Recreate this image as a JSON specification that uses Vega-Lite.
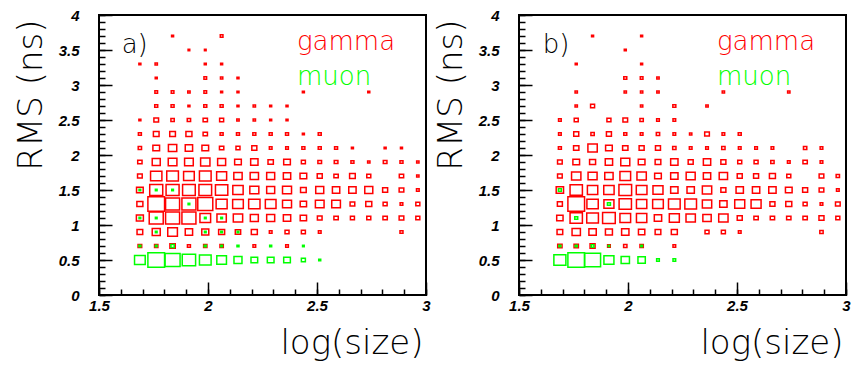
{
"$schema": "https://vega.github.io/schema/vega-lite/v6.json",
"background": "white",
"padding": {"left": 13, "top": 7, "right": 0, "bottom": 0},
"bounds": "flush",
"spacing": 93,
"datasets": {
"a": [
{"p":"gamma","x":1.8375,"y":3.7,"n":6},{"p":"gamma","x":2.0625,"y":3.7,"n":8},
{"p":"gamma","x":1.9125,"y":3.5,"n":5},{"p":"gamma","x":1.9875,"y":3.5,"n":5},
{"p":"gamma","x":1.6875,"y":3.3,"n":6},{"p":"gamma","x":1.7625,"y":3.3,"n":7},{"p":"gamma","x":1.9875,"y":3.3,"n":6},{"p":"gamma","x":2.0625,"y":3.3,"n":6},
{"p":"gamma","x":1.7625,"y":3.1,"n":6},{"p":"gamma","x":1.9875,"y":3.1,"n":8},{"p":"gamma","x":2.0625,"y":3.1,"n":7},{"p":"gamma","x":2.1375,"y":3.1,"n":6},
{"p":"gamma","x":1.7625,"y":2.9,"n":8},{"p":"gamma","x":1.8375,"y":2.9,"n":8},{"p":"gamma","x":1.9125,"y":2.9,"n":7},{"p":"gamma","x":1.9875,"y":2.9,"n":8},{"p":"gamma","x":2.0625,"y":2.9,"n":6},{"p":"gamma","x":2.1375,"y":2.9,"n":6},{"p":"gamma","x":2.4375,"y":2.9,"n":6},{"p":"gamma","x":2.7375,"y":2.9,"n":6},
{"p":"gamma","x":1.7625,"y":2.7,"n":9},{"p":"gamma","x":1.8375,"y":2.7,"n":9},{"p":"gamma","x":1.9125,"y":2.7,"n":6},{"p":"gamma","x":1.9875,"y":2.7,"n":9},{"p":"gamma","x":2.0625,"y":2.7,"n":9},{"p":"gamma","x":2.1375,"y":2.7,"n":6},{"p":"gamma","x":2.2125,"y":2.7,"n":7},{"p":"gamma","x":2.2875,"y":2.7,"n":6},{"p":"gamma","x":2.3625,"y":2.7,"n":6},
{"p":"gamma","x":1.6875,"y":2.5,"n":6},{"p":"gamma","x":1.7625,"y":2.5,"n":14},{"p":"gamma","x":1.8375,"y":2.5,"n":10},{"p":"gamma","x":1.9125,"y":2.5,"n":10},{"p":"gamma","x":1.9875,"y":2.5,"n":13},{"p":"gamma","x":2.0625,"y":2.5,"n":12},{"p":"gamma","x":2.1375,"y":2.5,"n":7},{"p":"gamma","x":2.2125,"y":2.5,"n":7},{"p":"gamma","x":2.2875,"y":2.5,"n":6},{"p":"gamma","x":2.3625,"y":2.5,"n":6},
{"p":"gamma","x":1.6875,"y":2.3,"n":9},{"p":"gamma","x":1.7625,"y":2.3,"n":17},{"p":"gamma","x":1.8375,"y":2.3,"n":17},{"p":"gamma","x":1.9125,"y":2.3,"n":18},{"p":"gamma","x":1.9875,"y":2.3,"n":13},{"p":"gamma","x":2.0625,"y":2.3,"n":9},{"p":"gamma","x":2.1375,"y":2.3,"n":9},{"p":"gamma","x":2.2125,"y":2.3,"n":9},{"p":"gamma","x":2.2875,"y":2.3,"n":9},{"p":"gamma","x":2.3625,"y":2.3,"n":9},{"p":"gamma","x":2.4375,"y":2.3,"n":6},{"p":"gamma","x":2.5125,"y":2.3,"n":9},
{"p":"gamma","x":1.6875,"y":2.1,"n":10},{"p":"gamma","x":1.7625,"y":2.1,"n":20},{"p":"gamma","x":1.8375,"y":2.1,"n":25},{"p":"gamma","x":1.9125,"y":2.1,"n":22},{"p":"gamma","x":1.9875,"y":2.1,"n":20},{"p":"gamma","x":2.0625,"y":2.1,"n":13},{"p":"gamma","x":2.1375,"y":2.1,"n":12},{"p":"gamma","x":2.2125,"y":2.1,"n":15},{"p":"gamma","x":2.2875,"y":2.1,"n":8},{"p":"gamma","x":2.3625,"y":2.1,"n":8},{"p":"gamma","x":2.4375,"y":2.1,"n":9},{"p":"gamma","x":2.5125,"y":2.1,"n":9},{"p":"gamma","x":2.5875,"y":2.1,"n":9},{"p":"gamma","x":2.6625,"y":2.1,"n":6},{"p":"gamma","x":2.8125,"y":2.1,"n":6},{"p":"gamma","x":2.8875,"y":2.1,"n":6},
{"p":"gamma","x":1.6875,"y":1.9,"n":13},{"p":"gamma","x":1.7625,"y":1.9,"n":24},{"p":"gamma","x":1.8375,"y":1.9,"n":26},{"p":"gamma","x":1.9125,"y":1.9,"n":26},{"p":"gamma","x":1.9875,"y":1.9,"n":28},{"p":"gamma","x":2.0625,"y":1.9,"n":24},{"p":"gamma","x":2.1375,"y":1.9,"n":20},{"p":"gamma","x":2.2125,"y":1.9,"n":22},{"p":"gamma","x":2.2875,"y":1.9,"n":16},{"p":"gamma","x":2.3625,"y":1.9,"n":20},{"p":"gamma","x":2.4375,"y":1.9,"n":12},{"p":"gamma","x":2.5125,"y":1.9,"n":11},{"p":"gamma","x":2.5875,"y":1.9,"n":11},{"p":"gamma","x":2.6625,"y":1.9,"n":9},{"p":"gamma","x":2.7375,"y":1.9,"n":7},{"p":"gamma","x":2.8125,"y":1.9,"n":11},{"p":"gamma","x":2.8875,"y":1.9,"n":9},{"p":"gamma","x":2.9625,"y":1.9,"n":7},
{"p":"gamma","x":1.6875,"y":1.7,"n":14},{"p":"gamma","x":1.7625,"y":1.7,"n":34},{"p":"gamma","x":1.8375,"y":1.7,"n":35},{"p":"gamma","x":1.9125,"y":1.7,"n":32},{"p":"gamma","x":1.9875,"y":1.7,"n":35},{"p":"gamma","x":2.0625,"y":1.7,"n":30},{"p":"gamma","x":2.1375,"y":1.7,"n":25},{"p":"gamma","x":2.2125,"y":1.7,"n":25},{"p":"gamma","x":2.2875,"y":1.7,"n":24},{"p":"gamma","x":2.3625,"y":1.7,"n":22},{"p":"gamma","x":2.4375,"y":1.7,"n":20},{"p":"gamma","x":2.5125,"y":1.7,"n":15},{"p":"gamma","x":2.5875,"y":1.7,"n":13},{"p":"gamma","x":2.6625,"y":1.7,"n":17},{"p":"gamma","x":2.7375,"y":1.7,"n":12},{"p":"gamma","x":2.8875,"y":1.7,"n":13},{"p":"gamma","x":2.9625,"y":1.7,"n":7},
{"p":"gamma","x":1.6875,"y":1.5,"n":20},{"p":"gamma","x":1.7625,"y":1.5,"n":39},{"p":"gamma","x":1.8375,"y":1.5,"n":39},{"p":"gamma","x":1.9125,"y":1.5,"n":38},{"p":"gamma","x":1.9875,"y":1.5,"n":38},{"p":"gamma","x":2.0625,"y":1.5,"n":37},{"p":"gamma","x":2.1375,"y":1.5,"n":31},{"p":"gamma","x":2.2125,"y":1.5,"n":27},{"p":"gamma","x":2.2875,"y":1.5,"n":24},{"p":"gamma","x":2.3625,"y":1.5,"n":27},{"p":"gamma","x":2.4375,"y":1.5,"n":17},{"p":"gamma","x":2.5125,"y":1.5,"n":24},{"p":"gamma","x":2.5875,"y":1.5,"n":22},{"p":"gamma","x":2.6625,"y":1.5,"n":22},{"p":"gamma","x":2.7375,"y":1.5,"n":24},{"p":"gamma","x":2.8125,"y":1.5,"n":15},{"p":"gamma","x":2.8875,"y":1.5,"n":14},{"p":"gamma","x":2.9625,"y":1.5,"n":8},
{"p":"gamma","x":1.6875,"y":1.3,"n":18},{"p":"gamma","x":1.7625,"y":1.3,"n":50},{"p":"gamma","x":1.8375,"y":1.3,"n":42},{"p":"gamma","x":1.9125,"y":1.3,"n":42},{"p":"gamma","x":1.9875,"y":1.3,"n":45},{"p":"gamma","x":2.0625,"y":1.3,"n":33},{"p":"gamma","x":2.1375,"y":1.3,"n":32},{"p":"gamma","x":2.2125,"y":1.3,"n":34},{"p":"gamma","x":2.2875,"y":1.3,"n":32},{"p":"gamma","x":2.3625,"y":1.3,"n":27},{"p":"gamma","x":2.4375,"y":1.3,"n":19},{"p":"gamma","x":2.5125,"y":1.3,"n":26},{"p":"gamma","x":2.5875,"y":1.3,"n":26},{"p":"gamma","x":2.6625,"y":1.3,"n":14},{"p":"gamma","x":2.7375,"y":1.3,"n":18},{"p":"gamma","x":2.8125,"y":1.3,"n":12},{"p":"gamma","x":2.8875,"y":1.3,"n":8},{"p":"gamma","x":2.9625,"y":1.3,"n":12},
{"p":"gamma","x":1.6875,"y":1.1,"n":21},{"p":"gamma","x":1.7625,"y":1.1,"n":42},{"p":"gamma","x":1.8375,"y":1.1,"n":42},{"p":"gamma","x":1.9125,"y":1.1,"n":42},{"p":"gamma","x":1.9875,"y":1.1,"n":32},{"p":"gamma","x":2.0625,"y":1.1,"n":28},{"p":"gamma","x":2.1375,"y":1.1,"n":28},{"p":"gamma","x":2.2125,"y":1.1,"n":24},{"p":"gamma","x":2.2875,"y":1.1,"n":24},{"p":"gamma","x":2.3625,"y":1.1,"n":22},{"p":"gamma","x":2.4375,"y":1.1,"n":19},{"p":"gamma","x":2.5125,"y":1.1,"n":14},{"p":"gamma","x":2.5875,"y":1.1,"n":13},{"p":"gamma","x":2.6625,"y":1.1,"n":12},{"p":"gamma","x":2.7375,"y":1.1,"n":12},{"p":"gamma","x":2.8125,"y":1.1,"n":13},{"p":"gamma","x":2.8875,"y":1.1,"n":14},{"p":"gamma","x":2.9625,"y":1.1,"n":12},
{"p":"gamma","x":1.6875,"y":0.9,"n":17},{"p":"gamma","x":1.7625,"y":0.9,"n":24},{"p":"gamma","x":1.8375,"y":0.9,"n":29},{"p":"gamma","x":1.9125,"y":0.9,"n":22},{"p":"gamma","x":1.9875,"y":0.9,"n":21},{"p":"gamma","x":2.0625,"y":0.9,"n":18},{"p":"gamma","x":2.1375,"y":0.9,"n":16},{"p":"gamma","x":2.2125,"y":0.9,"n":18},{"p":"gamma","x":2.2875,"y":0.9,"n":8},{"p":"gamma","x":2.3625,"y":0.9,"n":12},{"p":"gamma","x":2.4375,"y":0.9,"n":12},{"p":"gamma","x":2.5125,"y":0.9,"n":8},{"p":"gamma","x":2.8875,"y":0.9,"n":9},
{"p":"gamma","x":1.6875,"y":0.7,"n":11},{"p":"gamma","x":1.7625,"y":0.7,"n":10},{"p":"gamma","x":1.8375,"y":0.7,"n":16},{"p":"gamma","x":1.9125,"y":0.7,"n":9},{"p":"gamma","x":1.9875,"y":0.7,"n":10},{"p":"gamma","x":2.0625,"y":0.7,"n":10},{"p":"gamma","x":2.2125,"y":0.7,"n":8},{"p":"gamma","x":2.3625,"y":0.7,"n":8},
{"p":"muon","x":1.6875,"y":0.5,"n":32},{"p":"muon","x":1.7625,"y":0.5,"n":50},{"p":"muon","x":1.8375,"y":0.5,"n":45},{"p":"muon","x":1.9125,"y":0.5,"n":40},{"p":"muon","x":1.9875,"y":0.5,"n":35},{"p":"muon","x":2.0625,"y":0.5,"n":29},{"p":"muon","x":2.1375,"y":0.5,"n":24},{"p":"muon","x":2.2125,"y":0.5,"n":20},{"p":"muon","x":2.2875,"y":0.5,"n":20},{"p":"muon","x":2.3625,"y":0.5,"n":20},{"p":"muon","x":2.4375,"y":0.5,"n":12},{"p":"muon","x":2.5125,"y":0.5,"n":6},
{"p":"muon","x":1.6875,"y":0.7,"n":6},{"p":"muon","x":1.7625,"y":0.7,"n":5},{"p":"muon","x":1.8375,"y":0.7,"n":10},{"p":"muon","x":1.9875,"y":0.7,"n":6},{"p":"muon","x":2.0625,"y":0.7,"n":5},{"p":"muon","x":2.1375,"y":0.7,"n":6},{"p":"muon","x":2.2875,"y":0.7,"n":6},{"p":"muon","x":2.4375,"y":0.7,"n":5},
{"p":"muon","x":1.7625,"y":0.9,"n":5},{"p":"muon","x":1.9875,"y":0.9,"n":5},{"p":"muon","x":2.0625,"y":0.9,"n":5},{"p":"muon","x":2.1375,"y":0.9,"n":5},
{"p":"muon","x":1.6875,"y":1.1,"n":5},{"p":"muon","x":1.7625,"y":1.1,"n":5},{"p":"muon","x":1.9875,"y":1.1,"n":5},{"p":"muon","x":2.0625,"y":1.1,"n":5},
{"p":"muon","x":1.9125,"y":1.3,"n":5},
{"p":"muon","x":1.6875,"y":1.5,"n":5},{"p":"muon","x":1.7625,"y":1.5,"n":5},{"p":"muon","x":1.8375,"y":1.5,"n":5}
],
"b": [
{"p":"gamma","x":1.8375,"y":3.7,"n":6},{"p":"gamma","x":2.0625,"y":3.7,"n":6},
{"p":"gamma","x":1.9875,"y":3.5,"n":6},
{"p":"gamma","x":1.7625,"y":3.3,"n":6},{"p":"gamma","x":2.0625,"y":3.3,"n":6},
{"p":"gamma","x":1.9875,"y":3.1,"n":9},{"p":"gamma","x":2.0625,"y":3.1,"n":8},{"p":"gamma","x":2.1375,"y":3.1,"n":7},
{"p":"gamma","x":1.7625,"y":2.9,"n":7},{"p":"gamma","x":1.9875,"y":2.9,"n":7},{"p":"gamma","x":2.0625,"y":2.9,"n":7},{"p":"gamma","x":2.1375,"y":2.9,"n":7},{"p":"gamma","x":2.4375,"y":2.9,"n":7},{"p":"gamma","x":2.7375,"y":2.9,"n":7},
{"p":"gamma","x":1.7625,"y":2.7,"n":7},{"p":"gamma","x":1.8375,"y":2.7,"n":12},{"p":"gamma","x":2.0625,"y":2.7,"n":7},{"p":"gamma","x":2.2125,"y":2.7,"n":9},{"p":"gamma","x":2.3625,"y":2.7,"n":7},
{"p":"gamma","x":1.6875,"y":2.5,"n":8},{"p":"gamma","x":1.7625,"y":2.5,"n":12},{"p":"gamma","x":1.9125,"y":2.5,"n":12},{"p":"gamma","x":1.9875,"y":2.5,"n":14},{"p":"gamma","x":2.0625,"y":2.5,"n":10},{"p":"gamma","x":2.1375,"y":2.5,"n":8},{"p":"gamma","x":2.2125,"y":2.5,"n":8},
{"p":"gamma","x":1.6875,"y":2.3,"n":8},{"p":"gamma","x":1.7625,"y":2.3,"n":15},{"p":"gamma","x":1.8375,"y":2.3,"n":10},{"p":"gamma","x":1.9125,"y":2.3,"n":15},{"p":"gamma","x":1.9875,"y":2.3,"n":9},{"p":"gamma","x":2.0625,"y":2.3,"n":8},{"p":"gamma","x":2.1375,"y":2.3,"n":10},{"p":"gamma","x":2.2125,"y":2.3,"n":8},{"p":"gamma","x":2.2875,"y":2.3,"n":7},{"p":"gamma","x":2.3625,"y":2.3,"n":14},{"p":"gamma","x":2.4375,"y":2.3,"n":8},{"p":"gamma","x":2.5125,"y":2.3,"n":9},
{"p":"gamma","x":1.6875,"y":2.1,"n":9},{"p":"gamma","x":1.7625,"y":2.1,"n":16},{"p":"gamma","x":1.8375,"y":2.1,"n":28},{"p":"gamma","x":1.9125,"y":2.1,"n":20},{"p":"gamma","x":1.9875,"y":2.1,"n":16},{"p":"gamma","x":2.0625,"y":2.1,"n":15},{"p":"gamma","x":2.1375,"y":2.1,"n":15},{"p":"gamma","x":2.2125,"y":2.1,"n":10},{"p":"gamma","x":2.2875,"y":2.1,"n":8},{"p":"gamma","x":2.3625,"y":2.1,"n":8},{"p":"gamma","x":2.4375,"y":2.1,"n":10},{"p":"gamma","x":2.5125,"y":2.1,"n":8},{"p":"gamma","x":2.5875,"y":2.1,"n":8},{"p":"gamma","x":2.6625,"y":2.1,"n":8},{"p":"gamma","x":2.8125,"y":2.1,"n":10},{"p":"gamma","x":2.8875,"y":2.1,"n":8},
{"p":"gamma","x":1.6875,"y":1.9,"n":14},{"p":"gamma","x":1.7625,"y":1.9,"n":20},{"p":"gamma","x":1.8375,"y":1.9,"n":18},{"p":"gamma","x":1.9125,"y":1.9,"n":22},{"p":"gamma","x":1.9875,"y":1.9,"n":27},{"p":"gamma","x":2.0625,"y":1.9,"n":20},{"p":"gamma","x":2.1375,"y":1.9,"n":17},{"p":"gamma","x":2.2125,"y":1.9,"n":22},{"p":"gamma","x":2.2875,"y":1.9,"n":15},{"p":"gamma","x":2.3625,"y":1.9,"n":22},{"p":"gamma","x":2.4375,"y":1.9,"n":15},{"p":"gamma","x":2.5125,"y":1.9,"n":12},{"p":"gamma","x":2.5875,"y":1.9,"n":12},{"p":"gamma","x":2.6625,"y":1.9,"n":10},{"p":"gamma","x":2.7375,"y":1.9,"n":8},{"p":"gamma","x":2.8125,"y":1.9,"n":13},{"p":"gamma","x":2.8875,"y":1.9,"n":8},
{"p":"gamma","x":1.6875,"y":1.7,"n":14},{"p":"gamma","x":1.7625,"y":1.7,"n":28},{"p":"gamma","x":1.8375,"y":1.7,"n":27},{"p":"gamma","x":1.9125,"y":1.7,"n":25},{"p":"gamma","x":1.9875,"y":1.7,"n":32},{"p":"gamma","x":2.0625,"y":1.7,"n":28},{"p":"gamma","x":2.1375,"y":1.7,"n":20},{"p":"gamma","x":2.2125,"y":1.7,"n":22},{"p":"gamma","x":2.2875,"y":1.7,"n":27},{"p":"gamma","x":2.3625,"y":1.7,"n":22},{"p":"gamma","x":2.4375,"y":1.7,"n":25},{"p":"gamma","x":2.5125,"y":1.7,"n":15},{"p":"gamma","x":2.5875,"y":1.7,"n":15},{"p":"gamma","x":2.6625,"y":1.7,"n":18},{"p":"gamma","x":2.7375,"y":1.7,"n":12},{"p":"gamma","x":2.8875,"y":1.7,"n":14},{"p":"gamma","x":2.9625,"y":1.7,"n":10},
{"p":"gamma","x":1.6875,"y":1.5,"n":22},{"p":"gamma","x":1.7625,"y":1.5,"n":37},{"p":"gamma","x":1.8375,"y":1.5,"n":31},{"p":"gamma","x":1.9125,"y":1.5,"n":31},{"p":"gamma","x":1.9875,"y":1.5,"n":38},{"p":"gamma","x":2.0625,"y":1.5,"n":32},{"p":"gamma","x":2.1375,"y":1.5,"n":30},{"p":"gamma","x":2.2125,"y":1.5,"n":22},{"p":"gamma","x":2.2875,"y":1.5,"n":22},{"p":"gamma","x":2.3625,"y":1.5,"n":28},{"p":"gamma","x":2.4375,"y":1.5,"n":15},{"p":"gamma","x":2.5125,"y":1.5,"n":22},{"p":"gamma","x":2.5875,"y":1.5,"n":22},{"p":"gamma","x":2.6625,"y":1.5,"n":22},{"p":"gamma","x":2.7375,"y":1.5,"n":20},{"p":"gamma","x":2.8125,"y":1.5,"n":15},{"p":"gamma","x":2.8875,"y":1.5,"n":14},{"p":"gamma","x":2.9625,"y":1.5,"n":8},
{"p":"gamma","x":1.6875,"y":1.3,"n":15},{"p":"gamma","x":1.7625,"y":1.3,"n":50},{"p":"gamma","x":1.8375,"y":1.3,"n":34},{"p":"gamma","x":1.9125,"y":1.3,"n":30},{"p":"gamma","x":1.9875,"y":1.3,"n":37},{"p":"gamma","x":2.0625,"y":1.3,"n":31},{"p":"gamma","x":2.1375,"y":1.3,"n":32},{"p":"gamma","x":2.2125,"y":1.3,"n":35},{"p":"gamma","x":2.2875,"y":1.3,"n":35},{"p":"gamma","x":2.3625,"y":1.3,"n":28},{"p":"gamma","x":2.4375,"y":1.3,"n":22},{"p":"gamma","x":2.5125,"y":1.3,"n":30},{"p":"gamma","x":2.5875,"y":1.3,"n":30},{"p":"gamma","x":2.6625,"y":1.3,"n":15},{"p":"gamma","x":2.7375,"y":1.3,"n":18},{"p":"gamma","x":2.8125,"y":1.3,"n":12},{"p":"gamma","x":2.8875,"y":1.3,"n":8},{"p":"gamma","x":2.9625,"y":1.3,"n":14},
{"p":"gamma","x":1.6875,"y":1.1,"n":19},{"p":"gamma","x":1.7625,"y":1.1,"n":37},{"p":"gamma","x":1.8375,"y":1.1,"n":35},{"p":"gamma","x":1.9125,"y":1.1,"n":38},{"p":"gamma","x":1.9875,"y":1.1,"n":32},{"p":"gamma","x":2.0625,"y":1.1,"n":31},{"p":"gamma","x":2.1375,"y":1.1,"n":22},{"p":"gamma","x":2.2125,"y":1.1,"n":30},{"p":"gamma","x":2.2875,"y":1.1,"n":28},{"p":"gamma","x":2.3625,"y":1.1,"n":25},{"p":"gamma","x":2.4375,"y":1.1,"n":28},{"p":"gamma","x":2.5125,"y":1.1,"n":15},{"p":"gamma","x":2.5875,"y":1.1,"n":13},{"p":"gamma","x":2.6625,"y":1.1,"n":13},{"p":"gamma","x":2.7375,"y":1.1,"n":13},{"p":"gamma","x":2.8125,"y":1.1,"n":13},{"p":"gamma","x":2.8875,"y":1.1,"n":15},{"p":"gamma","x":2.9625,"y":1.1,"n":12},
{"p":"gamma","x":1.6875,"y":0.9,"n":17},{"p":"gamma","x":1.7625,"y":0.9,"n":25},{"p":"gamma","x":1.8375,"y":0.9,"n":22},{"p":"gamma","x":1.9125,"y":0.9,"n":21},{"p":"gamma","x":1.9875,"y":0.9,"n":22},{"p":"gamma","x":2.0625,"y":0.9,"n":19},{"p":"gamma","x":2.1375,"y":0.9,"n":17},{"p":"gamma","x":2.2125,"y":0.9,"n":18},{"p":"gamma","x":2.3625,"y":0.9,"n":12},{"p":"gamma","x":2.4375,"y":0.9,"n":12},{"p":"gamma","x":2.5125,"y":0.9,"n":8},{"p":"gamma","x":2.8875,"y":0.9,"n":10},
{"p":"gamma","x":1.6875,"y":0.7,"n":13},{"p":"gamma","x":1.7625,"y":0.7,"n":13},{"p":"gamma","x":1.8375,"y":0.7,"n":15},{"p":"gamma","x":1.9125,"y":0.7,"n":8},{"p":"gamma","x":1.9875,"y":0.7,"n":10},{"p":"gamma","x":2.0625,"y":0.7,"n":10},{"p":"gamma","x":2.2125,"y":0.7,"n":8},
{"p":"muon","x":1.6875,"y":0.5,"n":36},{"p":"muon","x":1.7625,"y":0.5,"n":50},{"p":"muon","x":1.8375,"y":0.5,"n":48},{"p":"muon","x":1.9125,"y":0.5,"n":30},{"p":"muon","x":1.9875,"y":0.5,"n":25},{"p":"muon","x":2.0625,"y":0.5,"n":22},{"p":"muon","x":2.1375,"y":0.5,"n":8},{"p":"muon","x":2.2125,"y":0.5,"n":8},
{"p":"muon","x":1.6875,"y":0.7,"n":6},{"p":"muon","x":1.7625,"y":0.7,"n":6},{"p":"muon","x":1.8375,"y":0.7,"n":8},{"p":"muon","x":1.9125,"y":0.7,"n":4},{"p":"muon","x":2.0625,"y":0.7,"n":5},
{"p":"muon","x":1.7625,"y":1.1,"n":9},
{"p":"muon","x":1.9125,"y":1.3,"n":9},
{"p":"muon","x":1.6875,"y":1.5,"n":9}
],
"leg": [
{"p":"gamma","lx":2.408,"ly":3.493},
{"p":"muon","lx":2.408,"ly":2.993}
]
},
"hconcat": [
{
"width": 327, "height": 280,
"layer": [
{"data": {"name": "a"},
 "mark": {"type": "point", "shape": "M-1,-0.856L1,-0.856L1,0.856L-1,0.856Z", "filled": false, "strokeWidth": 1.5, "opacity": 1},
 "encoding": {
  "x": {"field": "x", "type": "quantitative", "scale": {"domain": [1.5, 3], "nice": false, "zero": false},
        "axis": {"orient": "bottom", "offset": -13, "values": [1.5, 2, 2.5, 3], "format": "~g", "tickSize": 13, "tickWidth": 1.5, "tickColor": "#000000", "domain": false, "grid": false, "labelFont": "Liberation Sans", "labelFontSize": 15, "labelFontWeight": "bold", "labelFontStyle": "italic", "labelColor": "black", "labelPadding": 3, "labelFlush": false, "labelOverlap": false, "title": "log(size)", "titleFont": "DejaVu Sans", "titleFontSize": 34, "titleFontWeight": 300, "titleColor": "black", "titleAlign": "right", "titleBaseline": "alphabetic", "titleX": 324, "titleY": 71.5}},
  "y": {"field": "y", "type": "quantitative", "scale": {"domain": [0, 4], "nice": false, "zero": false},
        "axis": {"orient": "left", "offset": -13, "values": [0, 0.5, 1, 1.5, 2, 2.5, 3, 3.5, 4], "format": "~g", "tickSize": 13, "tickWidth": 1.5, "tickColor": "#000000", "domain": false, "grid": false, "labelFont": "Liberation Sans", "labelFontSize": 15, "labelFontWeight": "bold", "labelFontStyle": "italic", "labelColor": "black", "labelPadding": 20, "labelFlush": false, "labelOverlap": false, "title": "RMS (ns)", "titleFont": "DejaVu Sans", "titleFontSize": 34, "titleFontWeight": 300, "titleColor": "black", "titleAngle": 270, "titleAlign": "right", "titleBaseline": "alphabetic", "titleX": -71, "titleY": 4}},
  "size": {"field": "n", "type": "quantitative", "scale": {"type": "pow", "exponent": 2, "domain": [0, 49], "range": [0, 267]}, "legend": null},
  "color": {"field": "p", "type": "nominal", "scale": {"domain": ["gamma", "muon"], "range": ["#ff0000", "#00ff00"]}, "legend": null}
 }},
{"data": {"name": "leg"},
 "mark": {"type": "text", "font": "DejaVu Sans", "fontSize": 26, "fontWeight": 300, "align": "left", "baseline": "alphabetic"},
 "encoding": {
  "x": {"field": "lx", "type": "quantitative", "scale": {"domain": [1.5, 3], "nice": false, "zero": false},
        "axis": {"orient": "bottom", "offset": -6, "values": [1.5,1.6,1.7,1.8,1.9,2,2.1,2.2,2.3,2.4,2.5,2.6,2.7,2.8,2.9,3], "labels": false, "tickSize": 6, "tickWidth": 1.5, "tickColor": "#000000", "domain": false, "grid": false, "title": null}},
  "y": {"field": "ly", "type": "quantitative", "scale": {"domain": [0, 4], "nice": false, "zero": false},
        "axis": {"orient": "left", "offset": -6, "values": [0,0.1,0.2,0.3,0.4,0.5,0.6,0.7,0.8,0.9,1,1.1,1.2,1.3,1.4,1.5,1.6,1.7,1.8,1.9,2,2.1,2.2,2.3,2.4,2.5,2.6,2.7,2.8,2.9,3,3.1,3.2,3.3,3.4,3.5,3.6,3.7,3.8,3.9,4], "labels": false, "tickSize": 6, "tickWidth": 1.5, "tickColor": "#000000", "domain": false, "grid": false, "title": null}},
  "text": {"field": "p"},
  "color": {"field": "p", "type": "nominal", "scale": {"domain": ["gamma", "muon"], "range": ["#ff0000", "#00ff00"]}, "legend": null}
 }},
{"data": {"values": [{"t": "a)", "lx": 1.604, "ly": 3.464}]},
 "mark": {"type": "text", "font": "DejaVu Sans", "fontSize": 26, "fontWeight": 300, "align": "left", "baseline": "alphabetic", "color": "black"},
 "encoding": {
  "x": {"field": "lx", "type": "quantitative", "axis": null},
  "y": {"field": "ly", "type": "quantitative", "axis": null},
  "text": {"field": "t"}
 }}
],
"resolve": {"axis": {"x": "independent", "y": "independent"}}
},
{
"width": 327, "height": 280,
"layer": [
{"data": {"name": "b"},
 "mark": {"type": "point", "shape": "M-1,-0.856L1,-0.856L1,0.856L-1,0.856Z", "filled": false, "strokeWidth": 1.5, "opacity": 1},
 "encoding": {
  "x": {"field": "x", "type": "quantitative", "scale": {"domain": [1.5, 3], "nice": false, "zero": false},
        "axis": {"orient": "bottom", "offset": -13, "values": [1.5, 2, 2.5, 3], "format": "~g", "tickSize": 13, "tickWidth": 1.5, "tickColor": "#000000", "domain": false, "grid": false, "labelFont": "Liberation Sans", "labelFontSize": 15, "labelFontWeight": "bold", "labelFontStyle": "italic", "labelColor": "black", "labelPadding": 3, "labelFlush": false, "labelOverlap": false, "title": "log(size)", "titleFont": "DejaVu Sans", "titleFontSize": 34, "titleFontWeight": 300, "titleColor": "black", "titleAlign": "right", "titleBaseline": "alphabetic", "titleX": 324, "titleY": 71.5}},
  "y": {"field": "y", "type": "quantitative", "scale": {"domain": [0, 4], "nice": false, "zero": false},
        "axis": {"orient": "left", "offset": -13, "values": [0, 0.5, 1, 1.5, 2, 2.5, 3, 3.5, 4], "format": "~g", "tickSize": 13, "tickWidth": 1.5, "tickColor": "#000000", "domain": false, "grid": false, "labelFont": "Liberation Sans", "labelFontSize": 15, "labelFontWeight": "bold", "labelFontStyle": "italic", "labelColor": "black", "labelPadding": 20, "labelFlush": false, "labelOverlap": false, "title": "RMS (ns)", "titleFont": "DejaVu Sans", "titleFontSize": 34, "titleFontWeight": 300, "titleColor": "black", "titleAngle": 270, "titleAlign": "right", "titleBaseline": "alphabetic", "titleX": -71, "titleY": 4}},
  "size": {"field": "n", "type": "quantitative", "scale": {"type": "pow", "exponent": 2, "domain": [0, 49], "range": [0, 267]}, "legend": null},
  "color": {"field": "p", "type": "nominal", "scale": {"domain": ["gamma", "muon"], "range": ["#ff0000", "#00ff00"]}, "legend": null}
 }},
{"data": {"name": "leg"},
 "mark": {"type": "text", "font": "DejaVu Sans", "fontSize": 26, "fontWeight": 300, "align": "left", "baseline": "alphabetic"},
 "encoding": {
  "x": {"field": "lx", "type": "quantitative", "scale": {"domain": [1.5, 3], "nice": false, "zero": false},
        "axis": {"orient": "bottom", "offset": -6, "values": [1.5,1.6,1.7,1.8,1.9,2,2.1,2.2,2.3,2.4,2.5,2.6,2.7,2.8,2.9,3], "labels": false, "tickSize": 6, "tickWidth": 1.5, "tickColor": "#000000", "domain": false, "grid": false, "title": null}},
  "y": {"field": "ly", "type": "quantitative", "scale": {"domain": [0, 4], "nice": false, "zero": false},
        "axis": {"orient": "left", "offset": -6, "values": [0,0.1,0.2,0.3,0.4,0.5,0.6,0.7,0.8,0.9,1,1.1,1.2,1.3,1.4,1.5,1.6,1.7,1.8,1.9,2,2.1,2.2,2.3,2.4,2.5,2.6,2.7,2.8,2.9,3,3.1,3.2,3.3,3.4,3.5,3.6,3.7,3.8,3.9,4], "labels": false, "tickSize": 6, "tickWidth": 1.5, "tickColor": "#000000", "domain": false, "grid": false, "title": null}},
  "text": {"field": "p"},
  "color": {"field": "p", "type": "nominal", "scale": {"domain": ["gamma", "muon"], "range": ["#ff0000", "#00ff00"]}, "legend": null}
 }},
{"data": {"values": [{"t": "b)", "lx": 1.609, "ly": 3.464}]},
 "mark": {"type": "text", "font": "DejaVu Sans", "fontSize": 26, "fontWeight": 300, "align": "left", "baseline": "alphabetic", "color": "black"},
 "encoding": {
  "x": {"field": "lx", "type": "quantitative", "axis": null},
  "y": {"field": "ly", "type": "quantitative", "axis": null},
  "text": {"field": "t"}
 }}
],
"resolve": {"axis": {"x": "independent", "y": "independent"}}
}
],
"config": {
 "view": {"stroke": "black", "strokeWidth": 2}
}
}
